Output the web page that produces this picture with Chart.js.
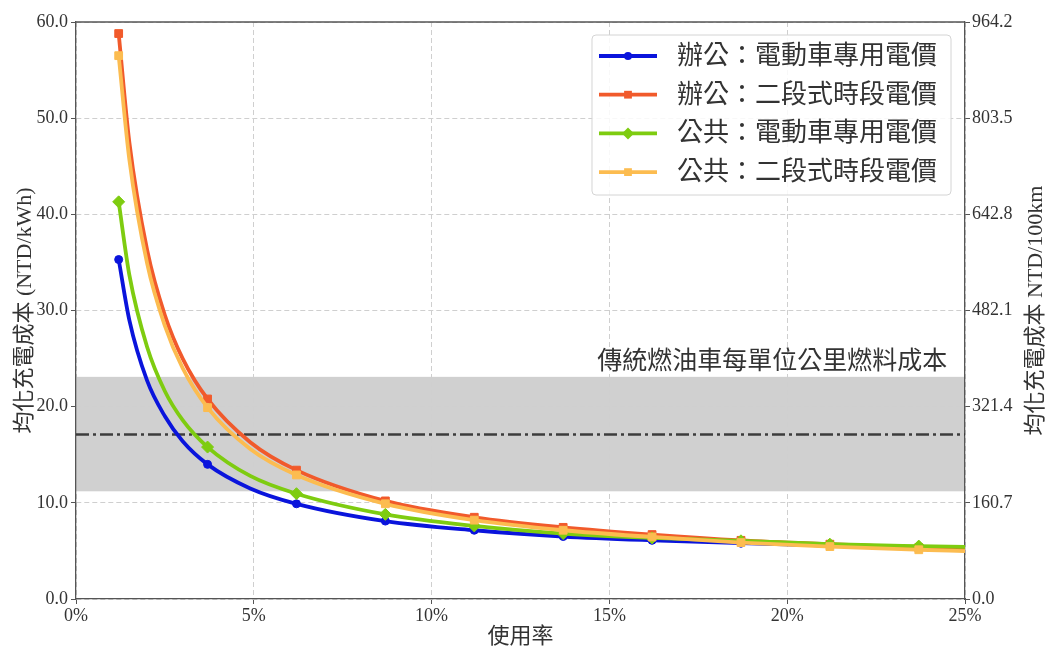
<!DOCTYPE html>
<html>
<head>
<meta charset="utf-8">
<script src="https://cdn.jsdelivr.net/npm/chart.js@4.4.1/dist/chart.umd.min.js"></script>
<style>
  body { margin: 0; background: #fff; }
  #wrap { width: 1049px; height: 646px; }
</style>
</head>
<body>
<div id="wrap"><canvas id="costChart" width="1049" height="646"></canvas></div>
<script>
// usage rate (%) along the curves, markers only at every 2.5%
const usage = [1.2, 1.5, 2.0, 2.5, 3.0, 3.7, 4.9, 6.2, 8.7, 11.2, 13.7, 16.2, 18.7, 21.2, 23.7, 25.0];
const markerUsage = [1.2, 3.7, 6.2, 8.7, 11.2, 13.7, 16.2, 18.7, 21.2, 23.7];

const officeEv = [35.3, 29.0, 22.7, 19.0, 16.4, 14.0, 11.5, 9.9, 8.1, 7.15, 6.5, 6.1, 5.8, 5.55, 5.37, 5.28];
const officeTou = [58.8, 47.5, 36.3, 29.5, 25.0, 20.8, 16.3, 13.4, 10.2, 8.5, 7.45, 6.7, 6.1, 5.7, 5.35, 5.2];
const publicEv = [41.3, 33.7, 26.2, 21.6, 18.6, 15.8, 12.8, 10.95, 8.8, 7.6, 6.8, 6.35, 6.05, 5.7, 5.5, 5.42];
const publicTou = [56.5, 45.7, 34.9, 28.4, 24.0, 19.9, 15.6, 12.9, 9.9, 8.2, 7.15, 6.45, 5.87, 5.45, 5.12, 4.97];

const seriesNames = ["辦公：電動車專用電價", "辦公：二段式時段電價", "公共：電動車專用電價", "公共：二段式時段電價"];
const seriesColors = ["#0a14dc", "#f15a2b", "#7ecc10", "#fcbc50"];
const seriesMarkers = ["circle", "rect", "rectRot", "rect"];

const xTicks = [0, 5, 10, 15, 20, 25];
const leftTicks = [0, 10, 20, 30, 40, 50, 60];
const rightTicks = [0, 160.7, 321.4, 482.1, 642.8, 803.5, 964.2];

const fuelBand = [11.2, 23.1];
const fuelCost = 17.1;
const fuelLabel = "傳統燃油車每單位公里燃料成本";

const FONT = "'Liberation Serif', 'Noto Sans CJK TC', serif";
const TEXT = "#333";
const SPINE = "#555";

const allSeries = [officeEv, officeTou, publicEv, publicTou];
const markerRadius = [4, 5.5, 6, 5.5];

const datasets = allSeries.map((vals, k) => ({
  label: seriesNames[k],
  data: usage.map((u, i) => ({ x: u, y: vals[i] })),
  borderColor: seriesColors[k],
  backgroundColor: seriesColors[k],
  borderWidth: 3.8,
  cubicInterpolationMode: "monotone",
  pointStyle: seriesMarkers[k],
  pointRadius: ctx => markerUsage.includes(usage[ctx.dataIndex]) ? markerRadius[k] : 0,
  pointBorderWidth: 1,
  order: 4 - k,
}));

function drawMarker(ctx, style, x, y, r, color) {
  ctx.save();
  ctx.fillStyle = color;
  ctx.beginPath();
  if (style === "circle") {
    ctx.arc(x, y, r, 0, Math.PI * 2);
  } else if (style === "rect") {
    const s = r * Math.SQRT1_2;
    ctx.rect(x - s, y - s, 2 * s, 2 * s);
  } else {
    ctx.moveTo(x, y - r); ctx.lineTo(x + r, y); ctx.lineTo(x, y + r); ctx.lineTo(x - r, y);
    ctx.closePath();
  }
  ctx.fill();
  ctx.restore();
}

const decorPlugin = {
  id: "decor",
  beforeDraw(chart) {
    const { ctx, chartArea: a, scales: { y } } = chart;
    const top = y.getPixelForValue(fuelBand[1]);
    const bottom = y.getPixelForValue(fuelBand[0]);
    ctx.save();
    ctx.fillStyle = "#d0d0d0";
    ctx.fillRect(a.left, top, a.right - a.left, bottom - top);
    ctx.restore();
  },
  beforeDatasetsDraw(chart) {
    const { ctx, chartArea: a, scales: { x, y } } = chart;
    const yy = y.getPixelForValue(fuelCost);
    ctx.save();
    ctx.strokeStyle = "#3c3c3c";
    ctx.lineWidth = 2.6;
    ctx.setLineDash([13, 4, 3, 4]);
    ctx.beginPath();
    ctx.moveTo(a.left, yy);
    ctx.lineTo(a.right, yy);
    ctx.stroke();
    ctx.restore();

    ctx.save();
    ctx.font = "25px " + FONT;
    ctx.fillStyle = TEXT;
    ctx.textAlign = "right";
    ctx.textBaseline = "middle";
    ctx.fillText(fuelLabel, x.getPixelForValue(24.5), y.getPixelForValue(24.6));
    ctx.restore();
  },
  afterDraw(chart) {
    const { ctx, chartArea: a } = chart;
    // top spine
    ctx.save();
    ctx.strokeStyle = SPINE;
    ctx.lineWidth = 1.3;
    ctx.beginPath();
    ctx.moveTo(a.left, a.top);
    ctx.lineTo(a.right, a.top);
    ctx.stroke();
    ctx.restore();

    // right axis title, reading bottom to top
    ctx.save();
    ctx.translate(1036, (a.top + a.bottom) / 2);
    ctx.rotate(-Math.PI / 2);
    ctx.font = "22px " + FONT;
    ctx.fillStyle = TEXT;
    ctx.textAlign = "center";
    ctx.textBaseline = "middle";
    ctx.fillText("均化充電成本 NTD/100km", 0, 0);
    ctx.restore();

    // legend box
    ctx.save();
    ctx.font = "26px " + FONT;
    const textW = Math.max(...seriesNames.map(n => ctx.measureText(n).width));
    const boxW = 85 + textW + 14;
    const boxH = 160;
    const bx = a.right - 14 - boxW;
    const by = a.top + 13;
    ctx.fillStyle = "rgba(255,255,255,0.85)";
    ctx.strokeStyle = "#d4d4d4";
    ctx.lineWidth = 1;
    ctx.beginPath();
    ctx.roundRect(bx, by, boxW, boxH, 4);
    ctx.fill();
    ctx.stroke();
    seriesNames.forEach((name, k) => {
      const ry = by + 21 + k * 38.7;
      ctx.strokeStyle = seriesColors[k];
      ctx.lineWidth = 3.8;
      ctx.beginPath();
      ctx.moveTo(bx + 7, ry);
      ctx.lineTo(bx + 65, ry);
      ctx.stroke();
      drawMarker(ctx, seriesMarkers[k], bx + 36, ry, markerRadius[k], seriesColors[k]);
      ctx.fillStyle = TEXT;
      ctx.textAlign = "left";
      ctx.textBaseline = "middle";
      ctx.fillText(name, bx + 85, ry + 1);
    });
    ctx.restore();
  }
};

new Chart(document.getElementById("costChart"), {
  type: "line",
  data: { datasets },
  plugins: [decorPlugin],
  options: {
    responsive: false,
    animation: false,
    layout: { padding: { top: 22, left: 0, right: 0, bottom: 0 } },
    plugins: { legend: { display: false }, tooltip: { enabled: false } },
    scales: {
      x: {
        type: "linear",
        min: 0,
        max: 25,
        afterBuildTicks: s => { s.ticks = xTicks.map(v => ({ value: v })); },
        afterFit: s => { s.height = 47; },
        ticks: { callback: v => v + "%", color: TEXT, font: { family: FONT, size: 18 }, padding: 1, maxRotation: 0 },
        grid: { color: "#cfcfcf", tickColor: SPINE, tickLength: 5 },
        border: { display: true, color: SPINE, width: 1.3, dash: [5, 3] },
        title: { display: true, text: "使用率", color: TEXT, font: { family: FONT, size: 22, lineHeight: 1 }, padding: { top: 0, bottom: -2 } },
      },
      y: {
        position: "left",
        min: 0,
        max: 60,
        afterBuildTicks: s => { s.ticks = leftTicks.map(v => ({ value: v })); },
        afterFit: s => { s.width = 76; },
        ticks: { callback: v => v.toFixed(1), color: TEXT, font: { family: FONT, size: 18 }, padding: 3 },
        grid: { color: "#cfcfcf", tickColor: SPINE, tickLength: 5 },
        border: { display: true, color: SPINE, width: 1.3, dash: [5, 3] },
        title: { display: true, text: "均化充電成本 (NTD/kWh)", color: TEXT, font: { family: FONT, size: 22, lineHeight: 1 }, padding: { top: 14, bottom: 0 } },
      },
      y2: {
        position: "right",
        min: 0,
        max: 964.2,
        afterBuildTicks: s => { s.ticks = rightTicks.map(v => ({ value: v })); },
        afterFit: s => { s.width = 84; },
        ticks: { callback: v => v.toFixed(1), color: TEXT, font: { family: FONT, size: 18 }, padding: 2 },
        grid: { drawOnChartArea: false, color: SPINE, tickLength: 5 },
        border: { display: true, color: SPINE, width: 1.3 },
      },
    },
  },
});
</script>
</body>
</html>
